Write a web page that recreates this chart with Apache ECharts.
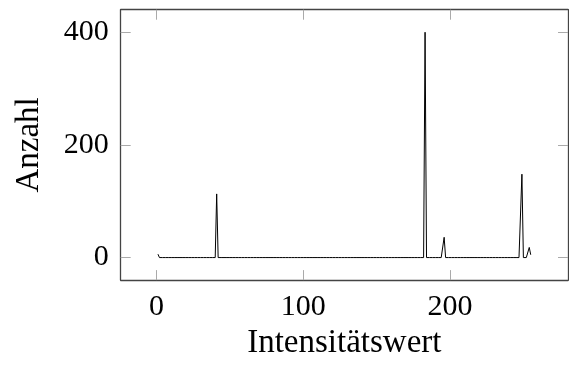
<!DOCTYPE html>
<html>
<head>
<meta charset="utf-8">
<script src="https://cdn.jsdelivr.net/npm/echarts@6/dist/echarts.min.js"></script>
<style>html,body{margin:0;padding:0;background:#fff}#c{width:569px;height:365px}</style>
</head>
<body>
<div id="c"></div>
<script>
// Intensity values 1..255
const intensities = [];
for (let i = 1; i <= 255; i++) intensities.push(i);
// Counts per intensity
const counts = [
  6,0,0,0,0,0,0,0,0,0,0,0,0,0,0,0,0,0,0,0,
  0,0,0,0,0,0,0,0,0,0,0,0,0,0,0,0,0,0,0,0,
  113,0,0,0,0,0,0,0,0,0,0,0,0,0,0,0,0,0,0,0,
  0,0,0,0,0,0,0,0,0,0,0,0,0,0,0,0,0,0,0,0,
  0,0,0,0,0,0,0,0,0,0,0,0,0,0,0,0,0,0,0,0,
  0,0,0,0,0,0,0,0,0,0,0,0,0,0,0,0,0,0,0,0,
  0,0,0,0,0,0,0,0,0,0,0,0,0,0,0,0,0,0,0,0,
  0,0,0,0,0,0,0,0,0,0,0,0,0,0,0,0,0,0,0,0,
  0,0,0,0,0,0,0,0,0,0,0,0,0,0,0,0,0,0,0,0,
  0,0,400,0,0,0,0,0,0,0,0,0,0,0,0,36,0,0,0,0,
  0,0,0,0,0,0,0,0,0,0,0,0,0,0,0,0,0,0,0,0,
  0,0,0,0,0,0,0,0,0,0,0,0,0,0,0,0,0,0,0,0,
  0,0,0,0,0,0,0,0,148,0,0,0,0,18,5
];
const xTicks = [0, 100, 200];
const yTicks = [0, 200, 400];
const xName = 'Intensitätswert';
const yName = 'Anzahl';

const font = 'Liberation Serif';
const lineCol = '#444';
const tickCol = '#aaa';
const xMin = -24.4, xMax = 280.4, yMin = -40, yMax = 440;

function axisBase(extra) {
  return Object.assign({
    type: 'value',
    splitLine: { show: false },
    axisLine: { show: true, onZero: false, lineStyle: { color: lineCol, width: 1.3 } },
    axisTick: { show: true, inside: true, length: 10, lineStyle: { color: tickCol, width: 1 } },
  }, extra);
}

const chart = echarts.init(document.getElementById('c'), null, { renderer: 'canvas' });
chart.setOption({
  animation: false,
  backgroundColor: '#fff',
  grid: { left: 120.7, right: 1, top: 9.7, bottom: 81.7, containLabel: false },
  xAxis: [
    axisBase({
      position: 'bottom', min: xMin, max: xMax,
      axisTick: { show: true, inside: true, length: 10, customValues: xTicks, lineStyle: { color: tickCol, width: 1 } },
      axisLabel: { customValues: xTicks, fontFamily: font, fontSize: 30, color: '#000', margin: 12 },
      name: xName, nameLocation: 'middle', nameGap: 43,
      nameTextStyle: { fontFamily: font, fontSize: 33, color: '#000' }
    }),
    axisBase({
      position: 'top', min: xMin, max: xMax,
      axisTick: { show: true, inside: true, length: 10, customValues: xTicks, lineStyle: { color: tickCol, width: 1 } },
      axisLabel: { show: false, customValues: xTicks }
    })
  ],
  yAxis: [
    axisBase({
      position: 'left', min: yMin, max: yMax,
      axisTick: { show: true, inside: true, length: 10, customValues: yTicks, lineStyle: { color: tickCol, width: 1 } },
      axisLabel: { customValues: yTicks, fontFamily: font, fontSize: 30, color: '#000', margin: 12 },
      name: yName, nameLocation: 'middle', nameGap: 75,
      nameTextStyle: { fontFamily: font, fontSize: 33, color: '#000' }
    }),
    axisBase({
      position: 'right', min: yMin, max: yMax,
      axisTick: { show: true, inside: true, length: 10, customValues: yTicks, lineStyle: { color: tickCol, width: 1 } },
      axisLabel: { show: false, customValues: yTicks }
    })
  ],
  series: [{
    type: 'line',
    xAxisIndex: 0, yAxisIndex: 0,
    data: intensities.map((x, i) => [x, counts[i]]),
    showSymbol: false,
    symbol: 'none',
    lineStyle: { color: '#000', width: 1 },
    silent: true
  }]
});
</script>
</body>
</html>
